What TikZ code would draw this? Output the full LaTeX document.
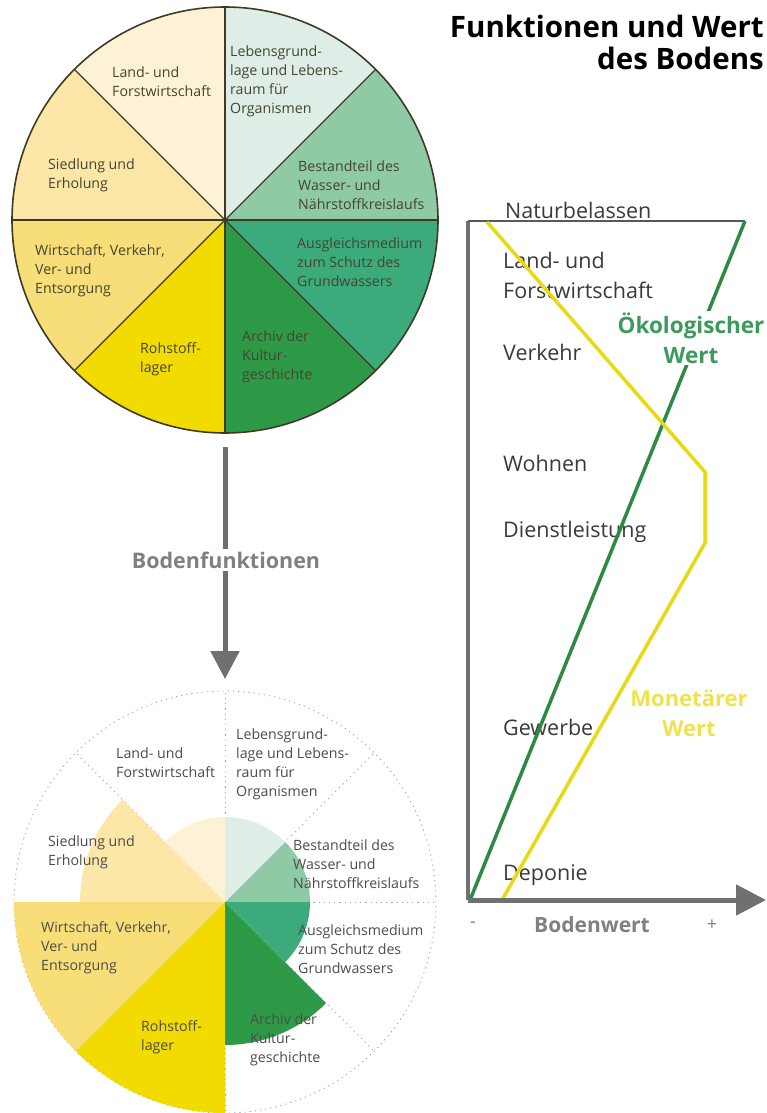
\documentclass[tikz,border=0pt]{standalone}
\usepackage{fontspec}
\setmainfont{Open Sans}
\usetikzlibrary{arrows.meta}
\definecolor{cLand}{HTML}{FEF2D6}
\definecolor{cSied}{HTML}{FCE7A8}
\definecolor{cWirt}{HTML}{F8DE78}
\definecolor{cRoh}{HTML}{F2DB00}
\definecolor{cArch}{HTML}{2E9A48}
\definecolor{cAusg}{HTML}{3BAB7B}
\definecolor{cBest}{HTML}{8ECAA6}
\definecolor{cLeb}{HTML}{DEEEE6}
\definecolor{pietext}{HTML}{45452F}
\definecolor{charttext}{HTML}{3A3A3A}
\definecolor{axisgray}{HTML}{707070}
\definecolor{ecogreen}{HTML}{2D8A45}
\definecolor{ecotext}{HTML}{3D9A5C}
\definecolor{monyellow}{HTML}{E8DA12}
\definecolor{montext}{HTML}{EEE251}
\definecolor{outline}{HTML}{3F3A25}
\begin{document}
\begin{tikzpicture}[x=1pt,y=-1pt,
  plabel/.style={anchor=west,align=left,inner sep=0pt,text=pietext,font=\fontsize{14.2}{19}\selectfont},
  blabel/.style={plabel,text=black!70},
  clabel/.style={anchor=base west,align=left,inner sep=0pt,text=charttext,font=\fontsize{21.5}{30}\selectfont},
  pieline/.style={draw=outline,line width=1.2pt},
  dotline/.style={draw=black!35,line width=0.9pt,dash pattern=on 1.2pt off 4pt},
  valline/.style={line width=3.5pt,line join=round}]
\useasboundingbox (0,0) rectangle (767,1113);

% ---------- top pie ----------
\coordinate (topc) at (225,220);
\begin{scope}[shift={(225,220)},y=1pt]
  \foreach \a/\c in {0/cBest,45/cLeb,90/cLand,135/cSied,180/cWirt,225/cRoh,270/cArch,315/cAusg}
    \fill[\c] (0,0) -- (\a:213) arc[start angle=\a, delta angle=45, radius=213] -- cycle;
  \foreach \a in {0,45,...,315}
    \draw[pieline] (0,0) -- (\a:213);
  \draw[pieline,line width=1.6pt] (0,0) circle[radius=213];
\end{scope}

\node[plabel] (t1) at (112,81.5) {Land- und\\Forstwirtschaft};
\node[plabel] (t2) at (230,81.5) {Lebensgrund-\\lage und Lebens-\\raum für\\Organismen};
\node[plabel] (t3) at (298,185.5) {Bestandteil des\\Wasser- und\\Nährstoffkreislaufs};
\node[plabel] (t4) at (297,262) {Ausgleichsmedium\\zum Schutz des\\Grundwassers};
\node[plabel] (t5) at (242,357) {Archiv der\\Kultur-\\geschichte};
\node[plabel] (t6) at (140,359) {Rohstoff-\\lager};
\node[plabel] (t7) at (35,270.5) {Wirtschaft, Verkehr,\\Ver- und\\Entsorgung};
\node[plabel] (t8) at (48,175) {Siedlung und\\Erholung};

% ---------- arrow ----------
\coordinate (astart) at (225,447);
\coordinate (aend) at (225,679);
\draw[axisgray,line width=5pt,-{Triangle[length=28pt,width=28pt]}] (astart) -- (aend);
\node[fill=white,inner sep=3pt,text=black!50,font=\bfseries\fontsize{21.5}{25}\selectfont] (bf) at (226,560) {Bodenfunktionen};

% ---------- bottom pie ----------
\coordinate (botc) at (225,902);
\begin{scope}[shift={(225,902)},y=1pt]
  \draw[dotline] (0,0) circle[radius=211];
  \foreach \a in {0,45,...,315}
    \draw[dotline] (0,0) -- (\a:211);
  \foreach \a/\c/\r in {0/cBest/85,45/cLeb/85,90/cLand/85,135/cSied/145,180/cWirt/211,225/cRoh/211,270/cArch/143,315/cAusg/85}
    \fill[\c] (0,0) -- (\a:\r) arc[start angle=\a, delta angle=45, radius=\r] -- cycle;
\end{scope}

\node[blabel] (b1) at (116,762.5) {Land- und\\Forstwirtschaft};
\node[blabel] (b2) at (236,764) {Lebensgrund-\\lage und Lebens-\\raum für\\Organismen};
\node[blabel] (b3) at (293,864) {Bestandteil des\\Wasser- und\\Nährstoffkreislaufs};
\node[blabel] (b4) at (298,949) {Ausgleichsmedium\\zum Schutz des\\Grundwassers};
\node[blabel] (b5) at (250,1040) {Archiv der\\Kultur-\\geschichte};
\node[blabel] (b6) at (141,1037) {Rohstoff-\\lager};
\node[blabel] (b7) at (41,947.5) {Wirtschaft, Verkehr,\\Ver- und\\Entsorgung};
\node[blabel] (b8) at (48,852) {Siedlung und\\Erholung};

% ---------- title ----------
\node[anchor=south east,align=right,inner sep=0pt,font=\bfseries\fontsize{29.5}{32}\selectfont] (title) at (764,70) {Funktionen und Wert\\des Bodens};

% ---------- chart ----------
\coordinate (O) at (468,900);
\coordinate (TL) at (468,221);
\coordinate (TR) at (745,221);
\coordinate (X) at (766,900);

\node[clabel] (c1) at (505,218) {Naturbelassen};
\node[clabel,anchor=west] (c2) at (503,275) {Land- und\\Forstwirtschaft};
\node[clabel] (c3) at (503,360) {Verkehr};
\node[clabel] (c4) at (503,471) {Wohnen};
\node[clabel] (c5) at (503,537) {Dienstleistung};
\node[clabel] (c6) at (503,735) {Gewerbe};
\node[clabel] (c7) at (503,880) {Deponie};

\draw[axisgray,line width=3.5pt] (TL) -- (O);
\draw[black!65,line width=2pt] (TL) -- (TR);

\coordinate (G0) at (470,900);
\coordinate (G1) at (745,221);
\draw[valline,ecogreen] (G0) -- (G1);

\coordinate (Y0) at (487,222);
\coordinate (Y1) at (705,472);
\coordinate (Y2) at (705,543);
\coordinate (Y3) at (502,900);
\draw[valline,monyellow] (Y0) -- (Y1) -- (Y2) -- (Y3);

\draw[axisgray,line width=5pt,-{Triangle[length=30pt,width=30pt]}] (O) -- (X);

\node[fill=white,inner sep=2pt,align=center,text=ecotext,font=\bfseries\fontsize{22.5}{30}\selectfont] (eco) at (691,338) {Ökologischer\\Wert};
\node[inner sep=0pt,align=center,text=montext,font=\bfseries\fontsize{22}{30}\selectfont] (mon) at (689,713) {Monetärer\\Wert};

\node[text=black!50,font=\bfseries\fontsize{21}{24}\selectfont,inner sep=0pt] (bw) at (592,925) {Bodenwert};
\node[text=black!50,font=\fontsize{18}{22}\selectfont,inner sep=0pt] (minus) at (473,925) {-};
\node[text=black!50,font=\fontsize{18}{22}\selectfont,inner sep=0pt] (plus) at (712,925) {+};
\end{tikzpicture}
\end{document}
